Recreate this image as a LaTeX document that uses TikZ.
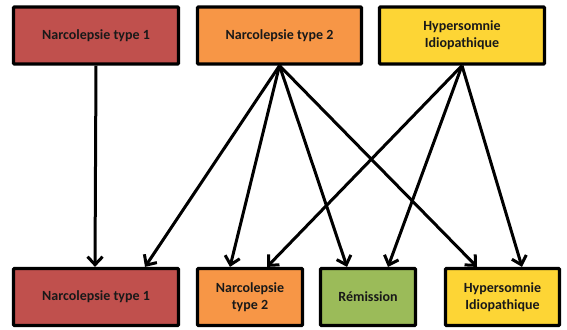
\documentclass[tikz,border=0pt]{standalone}
\usepackage{fontspec}
\setmainfont{Carlito}
\usetikzlibrary{arrows.meta}

\definecolor{nred}{HTML}{C0504D}
\definecolor{norange}{HTML}{F79646}
\definecolor{nyellow}{HTML}{FDD535}
\definecolor{ngreen}{HTML}{9BBB59}

\begin{document}
\begin{tikzpicture}[x=1pt, y=-1pt,
  box/.style={rectangle, draw=black, line width=3.2pt, rounded corners=1pt,
    minimum height=57pt, align=center, text=black!90,
    font=\bfseries\fontsize{14}{17}\selectfont},
  link/.style={line width=3pt, -{Straight Barb[length=8pt, width=15pt]}}]

\useasboundingbox (0,0) rectangle (567,329);

% before
\node[box, fill=nred, minimum width=165pt] (a) at (96,35.5) {Narcolepsie type 1};
\node[box, fill=norange, minimum width=164pt] (b) at (279.5,35.5) {Narcolepsie type 2};
\node[box, fill=nyellow, minimum width=165pt] (c) at (462,35.5) {Hypersomnie\\Idiopathique};

% after
\node[box, fill=nred, minimum width=165pt] (d) at (96,297) {Narcolepsie type 1};
\node[box, fill=norange, minimum width=105pt] (e) at (250,297) {Narcolepsie\\type 2};
\node[box, fill=ngreen, minimum width=95pt] (r) at (368,297) {Rémission};
\node[box, fill=nyellow, minimum width=114pt] (f) at (502.5,297) {Hypersomnie\\Idiopathique};

\draw[link] (a.south) -- ([xshift=-1pt]d.north);

\draw[link] (b.south) -- ([xshift=49pt]d.north);
\draw[link] (b.south) -- ([xshift=-20pt]e.north);
\draw[link] (b.south) -- ([xshift=-21pt]r.north);
\draw[link] (b.south) -- ([xshift=-25.5pt]f.north);

\draw[link] (c.south) -- ([xshift=17pt]e.north);
\draw[link] (c.south) -- ([xshift=20pt]r.north);
\draw[link] (c.south) -- ([xshift=19.5pt]f.north);
\end{tikzpicture}
\end{document}
